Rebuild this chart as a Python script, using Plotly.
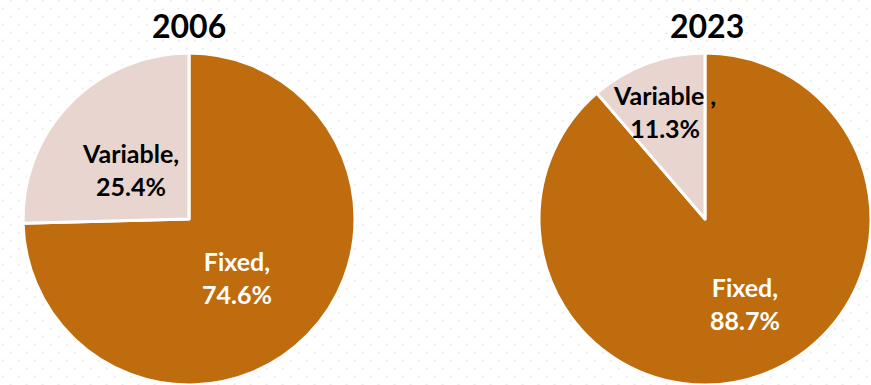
import base64
import plotly.graph_objects as go

# ---- data ----
years = ["2006", "2023"]
categories = ["Fixed", "Variable"]
values_2006 = [74.6, 25.4]
values_2023 = [88.7, 11.3]
label_text_2006 = ["Fixed,", "Variable,"]
label_text_2023 = ["Fixed,", "Variable ,"]

# ---- style ----
W, H = 871, 385
colors = ["#BE6C0D", "#E8D5CF"]
font_family = "Lato, 'Open Sans', sans-serif"

R = 166  # pie radius in px
left_cx, right_cx = 189, 705


def dom(cx):
    return [(cx - R) / W, min(1.0, (cx + R) / W)]


ydom = [0, (2 * R) / H]

fig = go.Figure()
for cx, vals in [(left_cx, values_2006), (right_cx, values_2023)]:
    fig.add_trace(go.Pie(
        labels=categories, values=vals, sort=False,
        direction="counterclockwise", rotation=0,
        marker=dict(colors=colors, line=dict(color="white", width=3)),
        textinfo="none", hoverinfo="label+percent",
        domain=dict(x=dom(cx), y=ydom), showlegend=False,
    ))

# background dotted pattern via svg image
svg = (
    "<svg xmlns='http://www.w3.org/2000/svg' width='%d' height='%d'>"
    "<defs><pattern id='p' width='16' height='16' patternUnits='userSpaceOnUse'>"
    "<rect x='1.5' y='7.5' width='2.2' height='2.2' fill='#ededed'/>"
    "<rect x='9.5' y='15.5' width='2.2' height='2.2' fill='#ededed'/>"
    "<rect x='9.5' y='-0.5' width='2.2' height='2.2' fill='#ededed'/>"
    "</pattern></defs><rect width='100%%' height='100%%' fill='url(#p)'/></svg>"
) % (W, H)
src = "data:image/svg+xml;base64," + base64.b64encode(svg.encode()).decode()

annotations = []
# titles
for cx, yr in [(left_cx, years[0]), (right_cx + 2, years[1])]:
    annotations.append(dict(x=cx / W, y=1 - 25 / H, xref="paper", yref="paper",
                            xanchor="center", yanchor="middle",
                            text="<b>%s</b>" % yr, showarrow=False,
                            font=dict(size=32, color="black", family=font_family)))

# slice labels (positions in px)
lab_pos = [
    (label_text_2006[1], values_2006[1], 130, 170, "black"),
    (label_text_2006[0], values_2006[0], 237, 277, "white"),
    (label_text_2023[1], values_2023[1], 664, 111, "black"),
    (label_text_2023[0], values_2023[0], 745, 303, "white"),
]
for txt, v, x, y, c in lab_pos:
    annotations.append(dict(
        x=x / W, y=1 - y / H, xref="paper", yref="paper",
        xanchor="center", yanchor="middle",
        text="<b>%s</b><br><b>%.1f%%</b>" % (txt, v), showarrow=False,
        align="center", font=dict(size=25, color=c, family=font_family),
    ))

fig.update_layout(
    width=W, height=H,
    margin=dict(l=0, r=0, t=0, b=0),
    paper_bgcolor="white", plot_bgcolor="white",
    annotations=annotations,
    images=[dict(source=src, xref="paper", yref="paper", x=0, y=1,
                 sizex=1, sizey=1, xanchor="left", yanchor="top",
                 sizing="stretch", layer="below")],
)

fig.write_html("out.html")
